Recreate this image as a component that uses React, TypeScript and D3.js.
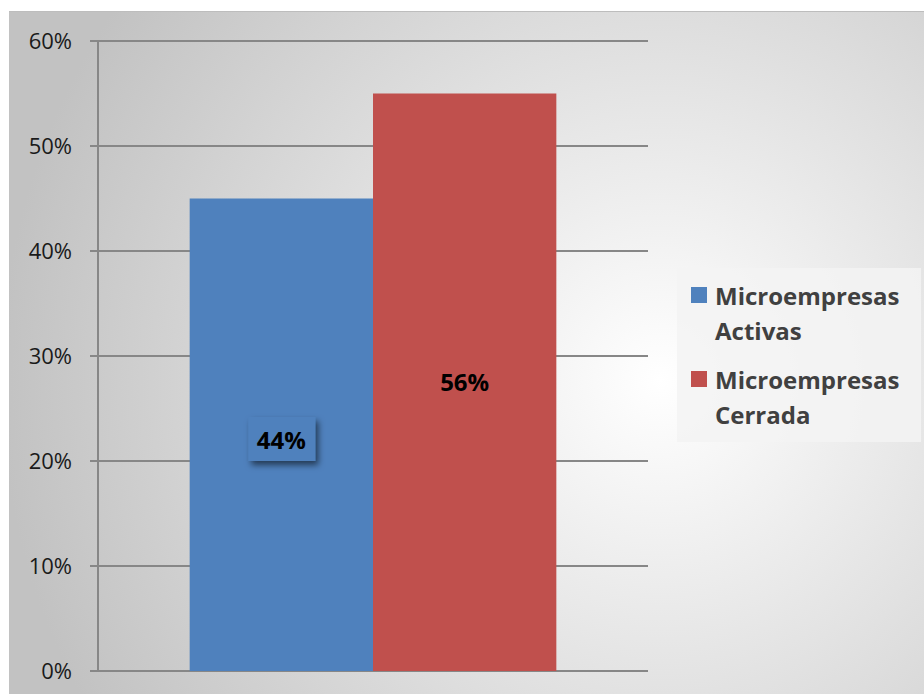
import * as d3 from "d3";
import { useEffect, useRef } from "react";

const series = ["Microempresas Activas", "Microempresas Cerrada"];
const values = [0.45, 0.55];
const labels = ["44%", "56%"];
const colors = ["#4F81BD", "#C0504D"];
const yTicks = [0, 0.1, 0.2, 0.3, 0.4, 0.5, 0.6];
const legendLines = [["Microempresas", "Activas"], ["Microempresas", "Cerrada"]];

const App = () => {
  const svgRef = useRef<SVGSVGElement>(null);

  useEffect(() => {
    const svg = d3.select(svgRef.current);
    svg.selectAll("*").remove();
    const width = 924;
    const height = 694;
    const margin = { top: 41, right: 276, bottom: 23, left: 98 };

    const defs = svg.append("defs");
    const grad = defs
      .append("radialGradient")
      .attr("id", "bg")
      .attr("gradientUnits", "userSpaceOnUse")
      .attr("cx", 660)
      .attr("cy", 380)
      .attr("r", 660);
    grad.append("stop").attr("offset", "0%").attr("stop-color", "#ffffff");
    grad.append("stop").attr("offset", "100%").attr("stop-color", "#c2c2c2");

    const shadow = defs.append("filter").attr("id", "shadow").attr("x", "-30%").attr("y", "-30%").attr("width", "160%").attr("height", "160%");
    shadow
      .append("feDropShadow")
      .attr("dx", 3)
      .attr("dy", 4)
      .attr("stdDeviation", 3)
      .attr("flood-color", "#000")
      .attr("flood-opacity", 0.55);

    // chart area
    svg
      .append("rect")
      .attr("x", 9)
      .attr("y", 11)
      .attr("width", width - 9)
      .attr("height", height - 11)
      .attr("fill", "url(#bg)");
    svg
      .append("line")
      .attr("x1", 9)
      .attr("x2", width)
      .attr("y1", 11.5)
      .attr("y2", 11.5)
      .attr("stroke", "#bdbdbd")
      .attr("stroke-width", 1);

    const xScale = d3
      .scaleBand()
      .domain(["g"])
      .range([margin.left, width - margin.right])
      .paddingInner(0)
      .paddingOuter(0);

    const inner = d3
      .scaleBand()
      .domain(series)
      .range([0, xScale.bandwidth()])
      .paddingOuter(0.5)
      .paddingInner(0);

    const yScale = d3
      .scaleLinear()
      .domain([0, 0.6])
      .range([height - margin.bottom, margin.top]);

    // gridlines
    svg
      .append("g")
      .selectAll("line")
      .data(yTicks)
      .join("line")
      .attr("x1", margin.left - 8)
      .attr("x2", width - margin.right)
      .attr("y1", (d) => yScale(d))
      .attr("y2", (d) => yScale(d))
      .attr("stroke", "#878787")
      .attr("stroke-width", 2);

    // y axis line
    svg
      .append("line")
      .attr("x1", margin.left)
      .attr("x2", margin.left)
      .attr("y1", yScale(0.6))
      .attr("y2", yScale(0))
      .attr("stroke", "#878787")
      .attr("stroke-width", 2);

    svg
      .append("g")
      .selectAll("text")
      .data(yTicks)
      .join("text")
      .attr("x", 72)
      .attr("y", (d) => yScale(d) + 8)
      .attr("text-anchor", "end")
      .attr("font-family", "'Open Sans', sans-serif")
      .attr("font-size", 22)
      .attr("fill", "#1a1a1a")
      .text((d) => d3.format(".0%")(d));

    const x0 = xScale("g") as number;
    // bars
    svg
      .append("g")
      .selectAll("rect")
      .data(values)
      .join("rect")
      .attr("x", (_, i) => x0 + (inner(series[i]) as number))
      .attr("width", inner.bandwidth())
      .attr("y", (d) => yScale(d))
      .attr("height", (d) => yScale(0) - yScale(d))
      .attr("fill", (_, i) => colors[i]);

    // data labels
    const labelY = [0.22, 0.275];
    values.forEach((v, i) => {
      const cx = x0 + (inner(series[i]) as number) + inner.bandwidth() / 2;
      const cy = yScale(labelY[i]);
      const g = svg.append("g");
      if (i === 0) {
        g.append("rect")
          .attr("x", cx - 33)
          .attr("y", cy - 23)
          .attr("width", 67)
          .attr("height", 44)
          .attr("fill", colors[i])
          .attr("filter", "url(#shadow)");
      }
      g.append("text")
        .attr("x", cx)
        .attr("y", cy + 9)
        .attr("text-anchor", "middle")
        .attr("font-family", "'Open Sans', sans-serif")
        .attr("font-weight", "bold")
        .attr("font-size", 24)
        .attr("fill", "#000")
        .text(labels[i]);
    });

    // legend
    const legend = svg.append("g");
    legend
      .append("rect")
      .attr("x", 677)
      .attr("y", 268)
      .attr("width", 244)
      .attr("height", 174)
      .attr("fill", "#f3f3f3")
      .attr("opacity", 0.85);
    legendLines.forEach((lines, i) => {
      const top = 287 + i * 84;
      legend
        .append("rect")
        .attr("x", 691)
        .attr("y", top)
        .attr("width", 16)
        .attr("height", 16)
        .attr("fill", colors[i]);
      lines.forEach((t, j) => {
        legend
          .append("text")
          .attr("x", 715)
          .attr("y", top + 18 + j * 35)
          .attr("font-family", "'Open Sans', sans-serif")
          .attr("font-weight", "bold")
          .attr("font-size", 24)
          .attr("fill", "#404040")
          .text(t);
      });
    });
  }, []);

  return (
    <svg
      ref={svgRef}
      width={924}
      height={694}
      style={{ position: "absolute", left: 0, top: 0 }}
    />
  );
};

export default App;
